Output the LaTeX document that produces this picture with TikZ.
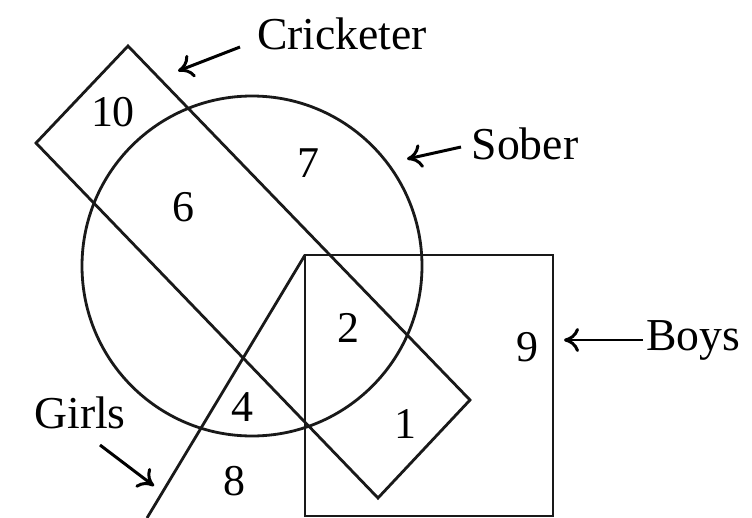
\documentclass[tikz,border=0pt]{standalone}
\usepackage{fontspec}
\setmainfont{Liberation Serif}
\usetikzlibrary{arrows.meta}

\begin{document}
\begin{tikzpicture}[
    x=0.02cm, y=-0.02cm,
    set/.style={line width=1.6pt, black!90},
    num/.style={inner sep=0pt, font=\fontsize{25}{29}\selectfont},
    lbl/.style={inner sep=0pt, font=\fontsize{26}{30}\selectfont},
    pointer/.style={line width=1.7pt, -{To[length=3mm,width=4.8mm,line width=1.7pt]}}
]
    % frame
    \useasboundingbox (0,0) rectangle (752,518);

    % sets
    \draw[set] (252,266) circle[radius=170];
    \draw[set] (128,46) -- (470,400) -- (378,498) -- (36,143) -- cycle;
    \draw[set] (305,516) -- (305,255) -- (553,255) -- (553,516) -- cycle;
    \draw[set] (305,255) -- (147,518);

    % region counts
    \node[num] (n10) at (113,112) {10};
    \node[num] (n7) at (308,163) {7};
    \node[num] (n6) at (183,207) {6};
    \node[num] (n2) at (348,328) {2};
    \node[num] (n9) at (527,347) {9};
    \node[num] (n4) at (242,407) {4};
    \node[num] (n1) at (405,424) {1};
    \node[num] (n8) at (234,481) {8};

    % set names
    \node[lbl] (cric) at (342,34) {Cricketer};
    \node[lbl] (sober) at (525,144) {Sober};
    \node[lbl] (boys) at (693,340) {Boys};
    \node[lbl] (girls) at (80,413) {Girls};

    \coordinate (cricTail) at (240,47);
    \coordinate (cricTip) at (178,71);
    \coordinate (soberTail) at (461,147);
    \coordinate (soberTip) at (407,159);
    \coordinate (boysTail) at (643,340);
    \coordinate (boysTip) at (564,340);
    \coordinate (girlsTail) at (100,445);
    \coordinate (girlsTip) at (154,486);

    \draw[pointer] (cricTail) -- (cricTip);
    \draw[pointer] (soberTail) -- (soberTip);
    \draw[pointer] (boysTail) -- (boysTip);
    \draw[pointer] (girlsTail) -- (girlsTip);
\end{tikzpicture}
\end{document}
